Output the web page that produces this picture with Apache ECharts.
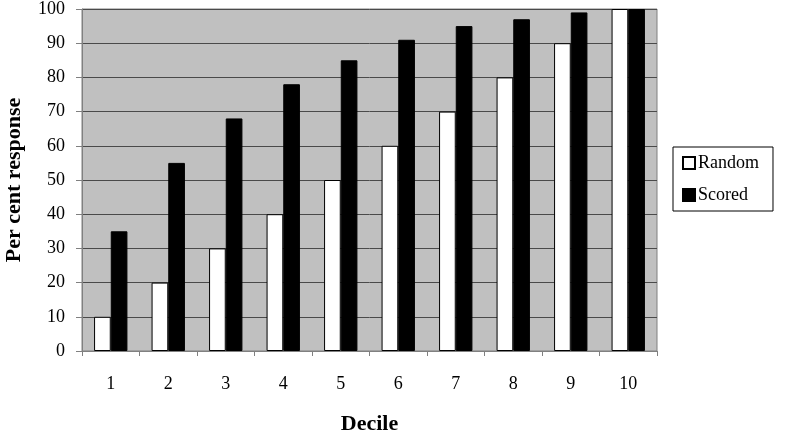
<!DOCTYPE html>
<html><head><meta charset="utf-8">
<script src="https://cdn.jsdelivr.net/npm/echarts@6/dist/echarts.min.js"></script>
<style>html,body{margin:0;padding:0;background:#fff}#c{width:786px;height:443px}</style>
</head><body><div id="c"></div>
<script>
var categories = ['1','2','3','4','5','6','7','8','9','10'];
var randomVals = [10,20,30,40,50,60,70,80,90,100];
var scoredVals = [35,55,68,78,85,91,95,97,99,100];
var legendNames = ['Random','Scored'];
var font = 'Liberation Serif, serif';
var chart = echarts.init(document.getElementById('c'), null, {renderer:'canvas'});
chart.setOption({
  animation:false,
  textStyle:{fontFamily:font},
  grid:{left:82,right:129,top:9,bottom:92,show:true,backgroundColor:'#c0c0c0',borderColor:'#808080',borderWidth:1,
    containLabel:false,outerBoundsMode:'none'},
  legend:{orient:'vertical',left:673,top:147,
    data:legendNames,
    icon:'rect',itemWidth:12,itemHeight:12,itemGap:14,
    backgroundColor:'#fff',borderColor:'#000',borderWidth:1,padding:[7,14,7,9],
    formatter:function(n){return '{s|' + n + '}';},
    textStyle:{fontFamily:'serif',fontSize:18,color:'#000',
      rich:{s:{fontFamily:'Times New Roman',fontSize:18,color:'#000',padding:[0,0,0,-2]}}}},
  xAxis:{type:'category',data:categories,name:'Decile',nameLocation:'middle',nameGap:62,
    nameTextStyle:{fontFamily:font,fontSize:22,fontWeight:'bold',color:'#000'},
    axisLine:{lineStyle:{color:'#808080',width:1}},
    axisTick:{show:true,length:5,lineStyle:{color:'#808080'}},
    axisLabel:{fontFamily:font,fontSize:18,color:'#000',margin:24}},
  yAxis:{type:'value',min:0,max:100,interval:10,name:'Per cent response',nameLocation:'middle',nameGap:57,
    nameTextStyle:{fontFamily:font,fontSize:22,fontWeight:'bold',color:'#000'},
    axisLine:{show:true,lineStyle:{color:'#808080',width:1}},
    axisTick:{show:true,length:6,lineStyle:{color:'#808080'}},
    splitLine:{show:true,lineStyle:{color:'#4a4a4a',width:1}},
    axisLabel:{fontFamily:font,fontSize:18,color:'#000',margin:17}},
  series:[
    {name:'Random',type:'bar',data:randomVals,barGap:'0%',barCategoryGap:'42%',
     itemStyle:{color:'#fff',borderColor:'#000',borderWidth:1}},
    {name:'Scored',type:'bar',data:scoredVals,barGap:'0%',barCategoryGap:'42%',
     itemStyle:{color:'#000',borderColor:'#000',borderWidth:1}}
  ]
});
</script></body></html>
